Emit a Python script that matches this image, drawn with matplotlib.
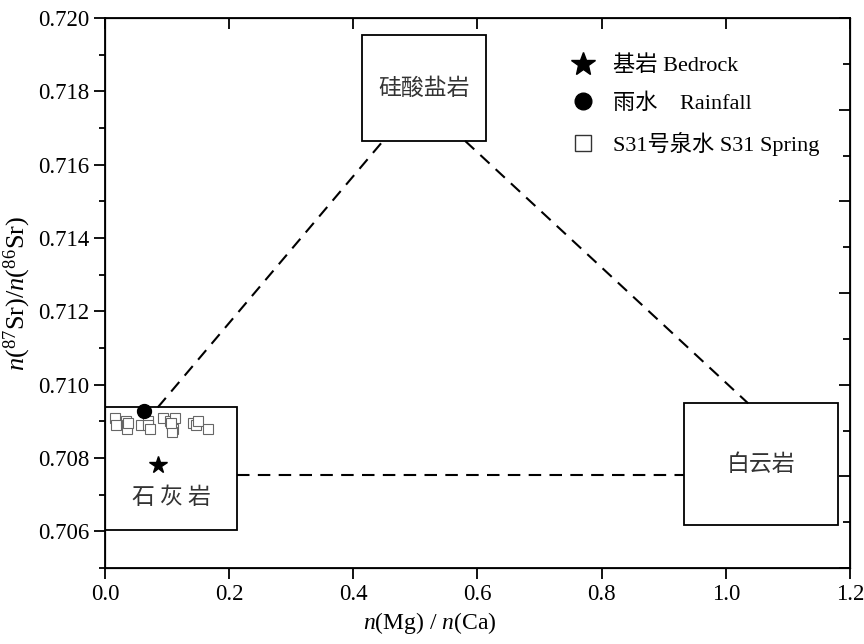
import matplotlib.pyplot as plt
from matplotlib.lines import Line2D
from matplotlib.patches import Rectangle
from matplotlib.ticker import MultipleLocator

plt.rcParams['font.family'] = ['Liberation Serif', 'Noto Sans CJK SC']
plt.rcParams['mathtext.fontset'] = 'custom'
plt.rcParams['mathtext.rm'] = 'Liberation Serif'
plt.rcParams['mathtext.it'] = 'Liberation Serif:italic'

# 数据
bedrock_x = [0.085]
bedrock_y = [0.70782]
rain_x = [0.063]
rain_y = [0.70929]
spring_x = [0.016, 0.018, 0.034, 0.036, 0.035, 0.037, 0.058, 0.069, 0.070, 0.072,
            0.094, 0.104, 0.108, 0.110, 0.108, 0.112, 0.106, 0.142, 0.146, 0.150, 0.166]
spring_y = [0.7091, 0.7089, 0.7090, 0.7089, 0.7088, 0.70895, 0.7089, 0.7090, 0.7089, 0.7088,
            0.7091, 0.7090, 0.7089, 0.7088, 0.7087, 0.7091, 0.70895, 0.70895, 0.7089, 0.7090, 0.7088]

x_ticks = [0.0, 0.2, 0.4, 0.6, 0.8, 1.0, 1.2]
x_labels = ['0.0', '0.2', '0.4', '0.6', '0.8', '1.0', '1.2']
y_ticks = [0.706, 0.708, 0.710, 0.712, 0.714, 0.716, 0.718, 0.720]
y_labels = ['0.706', '0.708', '0.710', '0.712', '0.714', '0.716', '0.718', '0.720']

# 端元框: (x0, x1, y0, y1, 名称)
end_members = [
    (0.0, 0.2126, 0.70603, 0.70938, '石 灰 岩'),
    (0.414, 0.614, 0.71665, 0.71954, '硅酸盐岩'),
    (0.933, 1.181, 0.70616, 0.70949, '白云岩'),
]
# 混合线
mix_lines = [
    ([0.085, 0.448], [0.70938, 0.71665]),
    ([0.580, 1.036], [0.71665, 0.70949]),
    ([0.2126, 0.933], [0.70755, 0.70755]),
]

fig = plt.figure(figsize=(8.64, 6.44), dpi=100)
ax = fig.add_axes([0.1215, 0.118, 0.8623, 0.854])

for x0, x1, y0, y1, name in end_members:
    ax.add_patch(Rectangle((x0, y0), x1 - x0, y1 - y0, fill=False, ec='black', lw=1.3, zorder=2))
    ty = y0 + 0.0009 if name.startswith('石') else (y0 + y1) / 2
    ax.text((x0 + x1) / 2, ty, name, ha='center', va='center', fontsize=16.5, color='#333333',
            family=['Noto Sans CJK SC'], fontweight='light')

for xs, ys in mix_lines:
    ax.plot(xs, ys, color='black', lw=1.5, ls=(0, (6, 4)), zorder=1)

ax.plot(spring_x, spring_y, 's', ms=7, mfc='white', mec='#666666', mew=0.8, ls='none', zorder=3)
ax.plot(rain_x, rain_y, 'o', ms=10, color='black', ls='none', zorder=4)
ax.plot(bedrock_x, bedrock_y, '*', ms=13, color='black', ls='none', zorder=4)

ax.set_xlim(0, 1.2)
ax.set_ylim(0.705, 0.720)
ax.set_xticks(x_ticks)
ax.set_xticklabels(x_labels)
ax.set_yticks(y_ticks)
ax.set_yticklabels(y_labels)
ax.yaxis.set_minor_locator(MultipleLocator(0.001))
ax.tick_params(axis='both', which='major', direction='out', length=8, width=1.3, labelsize=16.5)
ax.tick_params(axis='y', which='minor', direction='out', length=4, width=1.3)
for s in ax.spines.values():
    s.set_linewidth(1.3)

ax.set_xlabel(r'$n$(Mg) / $n$(Ca)', fontsize=17)
ax.xaxis.set_label_coords(0.436, -0.077)
ax.set_ylabel(r'$n$(${}^{87}$Sr)/$n$(${}^{86}$Sr)', fontsize=19, labelpad=3)

# 右侧和顶部刻度 (向内)
axr = ax.twinx()
axr.set_ylim(0, 6)
axr.yaxis.set_major_locator(MultipleLocator(1))
axr.yaxis.set_minor_locator(MultipleLocator(0.5))
axr.tick_params(axis='y', which='major', direction='in', length=8, width=1.3, labelright=False)
axr.tick_params(axis='y', which='minor', direction='in', length=5, width=1.3)
axt = ax.twiny()
axt.set_xlim(0, 1.2)
axt.set_xticks(x_ticks)
axt.tick_params(axis='x', direction='in', length=8, width=1.3, labeltop=False)

handles = [
    Line2D([], [], marker='*', ms=18, color='black', ls='none'),
    Line2D([], [], marker='o', ms=12, color='black', ls='none'),
    Line2D([], [], marker='s', ms=11, mfc='white', mec='#333333', mew=1.0, ls='none'),
]
labels = ['基岩 Bedrock', '雨水    Rainfall', 'S31号泉水 S31 Spring']
ax.legend(handles, labels, loc='upper left', bbox_to_anchor=(0.597, 0.968), frameon=False,
          fontsize=16, labelspacing=0.78, handletextpad=0.75, handlelength=1.2)

fig.savefig('out.png', dpi=100)
